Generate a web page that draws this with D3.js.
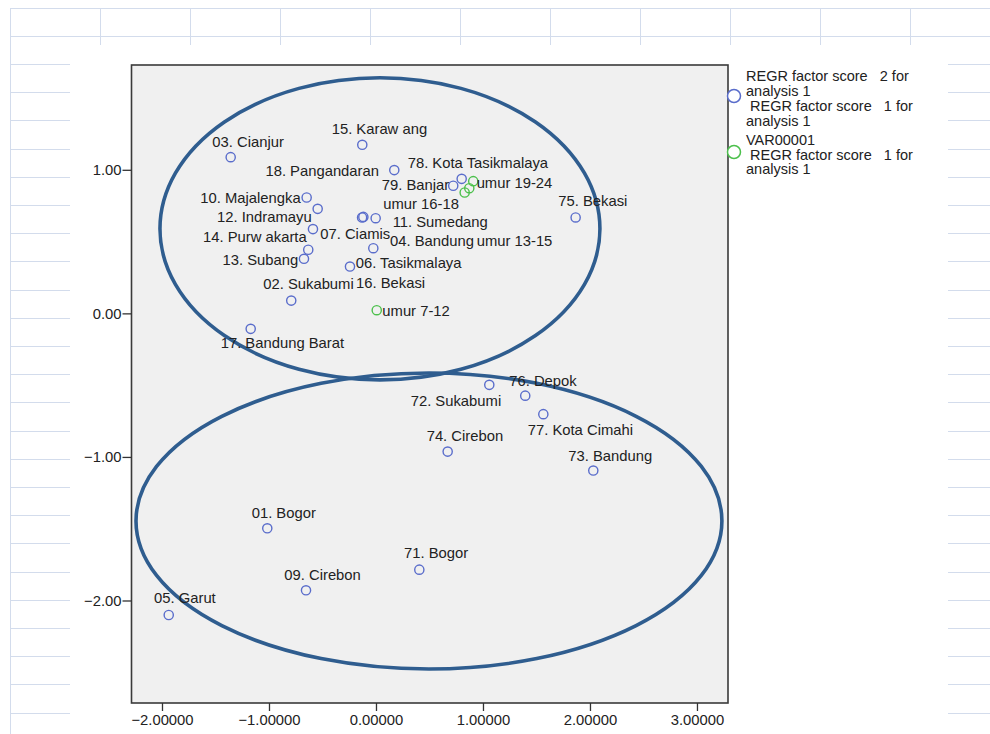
<!DOCTYPE html>
<html>
<head>
<meta charset="utf-8">
<script src="https://cdn.jsdelivr.net/npm/d3@7"></script>
<style>
  html, body { margin: 0; padding: 0; background: #ffffff; }
  svg { display: block; font-family: "Liberation Sans", Arial, sans-serif; }
  text { fill: #222; }
</style>
</head>
<body>
<svg id="chart" width="990" height="734"></svg>
<script>
// Regions (kabupaten / kota): labels and their two factor scores
const regionLabels = [
  "01. Bogor", "02. Sukabumi", "03. Cianjur", "04. Bandung", "05. Garut",
  "06. Tasikmalaya", "07. Ciamis", "08. Kuningan", "09. Cirebon", "10. Majalengka",
  "11. Sumedang", "12. Indramayu", "13. Subang", "14. Purw akarta", "15. Karaw ang",
  "16. Bekasi", "17. Bandung Barat", "18. Pangandaran",
  "71. Bogor", "72. Sukabumi", "73. Bandung", "74. Cirebon", "75. Bekasi",
  "76. Depok", "77. Kota Cimahi", "78. Kota Tasikmalaya", "79. Banjar"
];
const regionScore1 = [
  -1.016, -0.792, -1.358, -0.025, -1.937,
  -0.243, -0.633, -0.130, -0.654, -0.648,
  -0.003, -0.545, -0.673, -0.589, -0.128,
  -0.118, -1.171, 0.171,
  0.405, 1.059, 2.031, 0.670, 1.866,
  1.395, 1.564, 0.801, 0.722
];
const regionScore2 = [
  -1.497, 0.089, 1.088, 0.454, -2.101,
  0.326, 0.443, 0.668, -1.929, 0.807,
  0.663, 0.728, 0.380, 0.587, 1.174,
  0.672, -0.108, 0.998,
  -1.785, -0.498, -1.095, -0.963, 0.668,
  -0.573, -0.702, 0.937, 0.889
];
// which region labels are printed on the plot
const regionLabelShown = regionLabels.map(d => d !== "08. Kuningan");

// Age groups (VAR00001)
const ageLabels = ["umur 7-12", "umur 13-15", "umur 16-18", "umur 19-24"];
const ageScore1 = [0.007, 0.829, 0.872, 0.909];
const ageScore2 = [0.022, 0.842, 0.872, 0.921];

// Axis ticks
const xTicks = [-2, -1, 0, 1, 2, 3];
const yTicks = [-2, -1, 0, 1];

// Cluster ellipses in score units: centre (x, y) and radii (rx, ry)
const clusterCx = [0.037, 0.495];
const clusterCy = [0.589, -1.446];
const clusterRx = [2.056, 2.738];
const clusterRy = [1.052, 1.031];

// Legend entries
const legendBlue = ["REGR factor score   2 for", "analysis 1", " REGR factor score   1 for", "analysis 1"];
const legendGreen = ["VAR00001", " REGR factor score   1 for", "analysis 1"];

// ---- label placement (pixel offsets from each marker) ----
const regionLabelPos = [
  [-15.6, -15.6, "start"], [-28, -16.7, "start"], [-18.4, -15.6, "start"], [16.7, -7.3, "start"], [-14.7, -16.7, "start"],
  [5.7, -3.4, "start"], [12, -15.7, "start"], [0, 0, "start"], [-21.7, -15.3, "start"], [-6, 0.6, "end"],
  [17, 3.4, "start"], [-6, 7.7, "end"], [-5.7, 1, "end"], [-6.3, 7.4, "end"], [-30.6, -15.7, "start"],
  [-7.3, 66, "start"], [-30, 14.3, "start"], [-15.3, 0.7, "end"],
  [-15.3, -16.4, "start"], [-78.6, 15.7, "start"], [-25, -15, "start"], [-21, -15.7, "start"], [-17.4, -16.7, "start"],
  [-16, -15, "start"], [-15.6, 15.7, "start"], [-54, -15.7, "start"], [-4, -1, "end"]
];
const ageLabelPos = [[5.6, 0.7, "start"], [12, 48.3, "start"], [-86, 15.7, "start"], [3.4, 1.4, "start"]];

const svg = d3.select("#chart");
const W = 990, H = 734;
const gridColor = "#d3dcec";
const fontSize = 14.8;
const legendFontSize = 14.5;

// ---- worksheet grid behind the chart ----
const deco = svg.append("g").attr("stroke", gridColor).attr("stroke-width", 1).attr("shape-rendering", "crispEdges");
deco.append("line").attr("x1", 10).attr("x2", 10).attr("y1", 8).attr("y2", H);
[8, 36].forEach(y => deco.append("line").attr("x1", 10).attr("x2", W).attr("y1", y).attr("y2", y));
d3.range(100, W, 90).forEach(x => deco.append("line").attr("x1", x).attr("x2", x).attr("y1", 8).attr("y2", 45));
d3.range(64, 720, 28.2).forEach(y => {
  deco.append("line").attr("x1", 10).attr("x2", 70).attr("y1", Math.round(y)).attr("y2", Math.round(y));
  deco.append("line").attr("x1", 948).attr("x2", W).attr("y1", Math.round(y)).attr("y2", Math.round(y));
});

// ---- plot frame ----
const plot = { left: 131.5, right: 728, top: 65, bottom: 703 };
const x = d3.scaleLinear().domain([-2.285, 3.29]).range([plot.left, plot.right]);
const y = d3.scaleLinear().domain([-2.714, 1.73]).range([plot.bottom, plot.top]);

svg.append("rect")
  .attr("x", plot.left).attr("y", plot.top)
  .attr("width", plot.right - plot.left).attr("height", plot.bottom - plot.top)
  .attr("fill", "#f0f0f0").attr("stroke", "#3a3a3a").attr("stroke-width", 1.6);

// axes
const xAxis = svg.append("g").attr("transform", `translate(0,${plot.bottom})`)
  .call(d3.axisBottom(x).tickValues(xTicks).tickSize(8).tickPadding(3).tickFormat(d3.format(".5f")));
const yAxis = svg.append("g").attr("transform", `translate(${plot.left},0)`)
  .call(d3.axisLeft(y).tickValues(yTicks).tickSize(9).tickPadding(1).tickFormat(d3.format(".2f")));
[xAxis, yAxis].forEach(a => {
  a.select(".domain").remove();
  a.selectAll(".tick line").attr("stroke", "#333").attr("stroke-width", 1.3);
  a.selectAll(".tick text").attr("font-size", fontSize).attr("font-family", "Liberation Sans, Arial, sans-serif").style("fill", "#222");
});

// cluster ellipses
svg.append("g").selectAll("ellipse")
  .data(clusterCx.map((cx, i) => ({ cx, cy: clusterCy[i], rx: clusterRx[i], ry: clusterRy[i] })))
  .join("ellipse")
  .attr("cx", d => x(d.cx)).attr("cy", d => y(d.cy))
  .attr("rx", d => x(d.rx) - x(0)).attr("ry", d => y(0) - y(d.ry))
  .attr("fill", "none").attr("stroke", "#2f5d8f").attr("stroke-width", 3.6);

// region and age-group points
const regions = regionLabels.map((label, i) => ({
  label, s1: regionScore1[i], s2: regionScore2[i], shown: regionLabelShown[i], pos: regionLabelPos[i]
}));
const ages = ageLabels.map((label, i) => ({
  label, s1: ageScore1[i], s2: ageScore2[i], shown: true, pos: ageLabelPos[i]
}));

function drawSeries(data, color) {
  const g = svg.append("g");
  g.selectAll("circle").data(data).join("circle")
    .attr("cx", d => x(d.s1)).attr("cy", d => y(d.s2)).attr("r", 4.6)
    .attr("fill", "none").attr("stroke", color).attr("stroke-width", 1.4);
  g.selectAll("text").data(data.filter(d => d.shown)).join("text")
    .attr("x", d => x(d.s1) + d.pos[0]).attr("y", d => y(d.s2) + d.pos[1])
    .attr("dy", "0.35em").attr("text-anchor", d => d.pos[2])
    .attr("font-size", fontSize).style("white-space", "pre")
    .text(d => d.label);
}
drawSeries(regions, "#5a6dcb");
drawSeries(ages, "#4cc04c");

// legend
const legend = svg.append("g");
legend.append("circle").attr("cx", 734).attr("cy", 96).attr("r", 6.5)
  .attr("fill", "#fff").attr("stroke", "#5a6dcb").attr("stroke-width", 1.5);
legend.append("circle").attr("cx", 734).attr("cy", 152).attr("r", 6.5)
  .attr("fill", "#fff").attr("stroke", "#4cc04c").attr("stroke-width", 1.5);
legend.selectAll("text.b").data(legendBlue).join("text").attr("class", "b")
  .attr("x", 746).attr("y", (d, i) => 76 + i * 15).attr("dy", "0.35em")
  .attr("font-size", legendFontSize).style("white-space", "pre").text(d => d);
legend.selectAll("text.g").data(legendGreen).join("text").attr("class", "g")
  .attr("x", 746).attr("y", (d, i) => 140 + i * 14.5).attr("dy", "0.35em")
  .attr("font-size", legendFontSize).style("white-space", "pre").text(d => d);
</script>
</body>
</html>
